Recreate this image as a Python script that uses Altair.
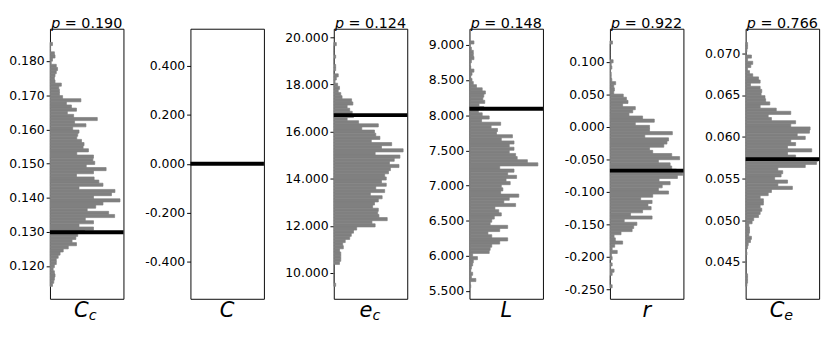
import altair as alt
import pandas as pd
import numpy as np

# ---------------- data ----------------
p_values = ["0.190", "", "0.124", "0.148", "0.922", "0.766"]
main_labels = ["C", "C", "e", "L", "r", "C"]
sub_labels = ["c", "", "c", "", "", "e"]
observed = [0.1299, 0.0, 16.70, 8.093, -0.0673, 0.05733]

y_domains = [
    [0.1104, 0.1895],
    [-0.55, 0.55],
    [8.915, 20.36],
    [5.389, 9.231],
    [-0.2644, 0.151],
    [0.04058, 0.07296],
]

ticks_cc = [0.120, 0.130, 0.140, 0.150, 0.160, 0.170, 0.180]
ticks_c = [-0.4, -0.2, 0.0, 0.2, 0.4]
ticks_ec = [10, 12, 14, 16, 18, 20]
ticks_l = [5.5, 6.0, 6.5, 7.0, 7.5, 8.0, 8.5, 9.0]
ticks_r = [-0.25, -0.2, -0.15, -0.1, -0.05, 0.0, 0.05, 0.1]
ticks_ce = [0.045, 0.050, 0.055, 0.060, 0.065, 0.070]
ticks = [ticks_cc, ticks_c, ticks_ec, ticks_l, ticks_r, ticks_ce]

# histogram range (top edge, bottom edge) and counts listed top -> bottom
hist_top = [0.18550, 0.0, 19.775, 9.058, 0.1322, 0.07131]
hist_bottom = [0.11403, 0.0, 9.444, 5.545, -0.2476, 0.04208]

counts_cc = [8, 2, 2, 14, 16, 8, 4, 20, 24, 20,
             16, 14, 16, 36, 28, 30, 30, 40, 98, 52,
             68, 84, 55, 75, 150, 78, 114, 72, 92, 88,
             85, 100, 108, 105, 122, 85, 138, 136, 142, 115,
             178, 138, 84, 140, 155, 168, 92, 206, 195, 138,
             222, 168, 145, 118, 186, 205, 112, 138, 92, 138,
             110, 88, 82, 70, 84, 58, 42, 32, 26, 20,
             20, 14, 10, 14, 16, 14, 12, 8]
counts_c = []
counts_ec = [8, 0, 0, 0, 6, 0, 0, 6, 6,
             0, 14, 8, 4, 12, 18, 14, 22, 26, 56,
             60, 42, 50, 58, 62, 42, 78, 140, 88, 128,
             132, 145, 118, 182, 150, 218, 130, 208, 190, 175,
             205, 178, 172, 160, 165, 150, 165, 132, 160, 115,
             152, 140, 128, 122, 140, 138, 142, 168, 120, 130,
             72, 62, 55, 50, 36, 28, 30, 18, 22, 22,
             22, 18, 0, 0, 0, 0, 0, 0, 6]
counts_l = [14, 0, 6, 12, 12, 14, 6, 0, 4, 14,
            8, 4, 8, 12, 22, 40, 50, 45, 42, 48,
            30, 45, 28, 40, 62, 38, 98, 68, 88, 85,
            135, 100, 140, 125, 140, 125, 145, 150, 182, 215,
            95, 140, 120, 148, 115, 128, 100, 105, 98, 155,
            125, 108, 145, 80, 92, 100, 78, 70, 65, 120,
            95, 58, 70, 120, 95, 70, 65, 62, 10, 25,
            12, 10, 6, 4, 10, 6, 20, 0, 4]
counts_r = [8, 0, 0, 0, 0, 0, 10, 4, 6, 2,
            4, 4, 6, 18, 12, 14, 12, 42, 52, 57,
            40, 80, 72, 60, 103, 140, 80, 125, 125, 197,
            110, 185, 180, 170, 125, 135, 195, 220, 153, 190,
            195, 210, 230, 213, 155, 190, 165, 153, 185, 135,
            97, 133, 120, 130, 103, 65, 133, 45, 85, 75,
            70, 35, 13, 17, 40, 15, 7, 23, 5, 7,
            0, 7, 2, 13, 7, 0, 0, 0, 7]
counts_ce = [6, 6, 4, 0, 18, 6, 22, 16, 6, 12,
             22, 40, 45, 15, 45, 50, 48, 60, 62, 75,
             45, 95, 140, 70, 80, 155, 140, 200, 198, 160,
             185, 140, 155, 130, 205, 130, 155, 225, 220, 185,
             100, 115, 110, 90, 130, 100, 145, 80, 70, 45,
             55, 55, 45, 50, 45, 40, 25, 20, 10, 12,
             12, 10, 18, 15, 8, 6, 2, 4, 0, 0,
             0, 0, 0, 0, 6, 6, 6, 4]
counts = [counts_cc, counts_c, counts_ec, counts_l, counts_r, counts_ce]
count_max = [233, 1, 231, 231, 232, 228]

# ---------------- layout / style ----------------
W, H = 77, 283
E = 43
FONT = "DejaVu Sans"
BAR = "#808080"
label_expr = "replace(format(datum.value, '.3f'), '\u2212', '-')"


def text_layer(txt, x, y, size, italic, align, baseline, opacity=1.0):
    return alt.Chart(pd.DataFrame({"t": [txt]})).mark_text(
        font=FONT, fontSize=size, fontStyle="italic" if italic else "normal",
        align=align, baseline=baseline, color="black", opacity=opacity
    ).encode(x=alt.value(x), y=alt.value(y), text="t:N")


def panel(i):
    yaxis = alt.Axis(values=ticks[i], labelExpr=label_expr, grid=False, domain=False,
                     ticks=True, tickSize=4, tickColor="black", tickWidth=1,
                     labelFont=FONT, labelFontSize=13, labelColor="black",
                     labelPadding=2, minExtent=E, maxExtent=E, title=None,
                     labelOverlap=False)
    yscale = alt.Scale(domain=y_domains[i], nice=False, zero=False)
    layers = []
    cnt = counts[i]
    if cnt:
        edges = np.linspace(hist_top[i], hist_bottom[i], len(cnt) + 1)
        df = pd.DataFrame({"hi": edges[:-1], "lo": edges[1:], "n": cnt, "z": 0})
        layers.append(
            alt.Chart(df).mark_rect(color=BAR, stroke=BAR, strokeWidth=0.7).encode(
                y=alt.Y("lo:Q", scale=yscale, axis=yaxis),
                y2="hi:Q",
                x=alt.X("z:Q", scale=alt.Scale(domain=[0, count_max[i]], nice=False), axis=None),
                x2="n:Q",
            )
        )
    layers.append(
        alt.Chart(pd.DataFrame({"v": [observed[i]]})).mark_rule(color="black", strokeWidth=4).encode(
            y=alt.Y("v:Q", scale=yscale, axis=yaxis), x=alt.value(0), x2=alt.value(W)
        )
    )
    # p-value title (italic p, upright rest)
    pv = p_values[i]
    op = 1.0 if pv else 0.0
    pv_txt = pv if pv else "0.000"
    x0 = W / 2 - 37.3
    layers.append(text_layer("p", x0, -13, 15, True, "left", "top", op))
    layers.append(text_layer("= " + pv_txt, x0 + 14.3, -13, 15, False, "left", "top", op))
    # x label with optional subscript
    if sub_labels[i]:
        layers.append(text_layer(main_labels[i], W / 2 + 2, H + 19, 22, True, "right", "alphabetic"))
        layers.append(text_layer(sub_labels[i], W / 2 + 2, H + 22, 15, True, "left", "alphabetic"))
    else:
        layers.append(text_layer(main_labels[i], W / 2, H + 19, 22, True, "center", "alphabetic"))
    return alt.layer(*layers).properties(width=W, height=H)


chart = alt.hconcat(*[panel(i) for i in range(6)], spacing=18.2).properties(
    padding=0
).configure_view(stroke="black", strokeWidth=1)

chart.save("out.html", embed_options={"renderer": "svg", "actions": False})
